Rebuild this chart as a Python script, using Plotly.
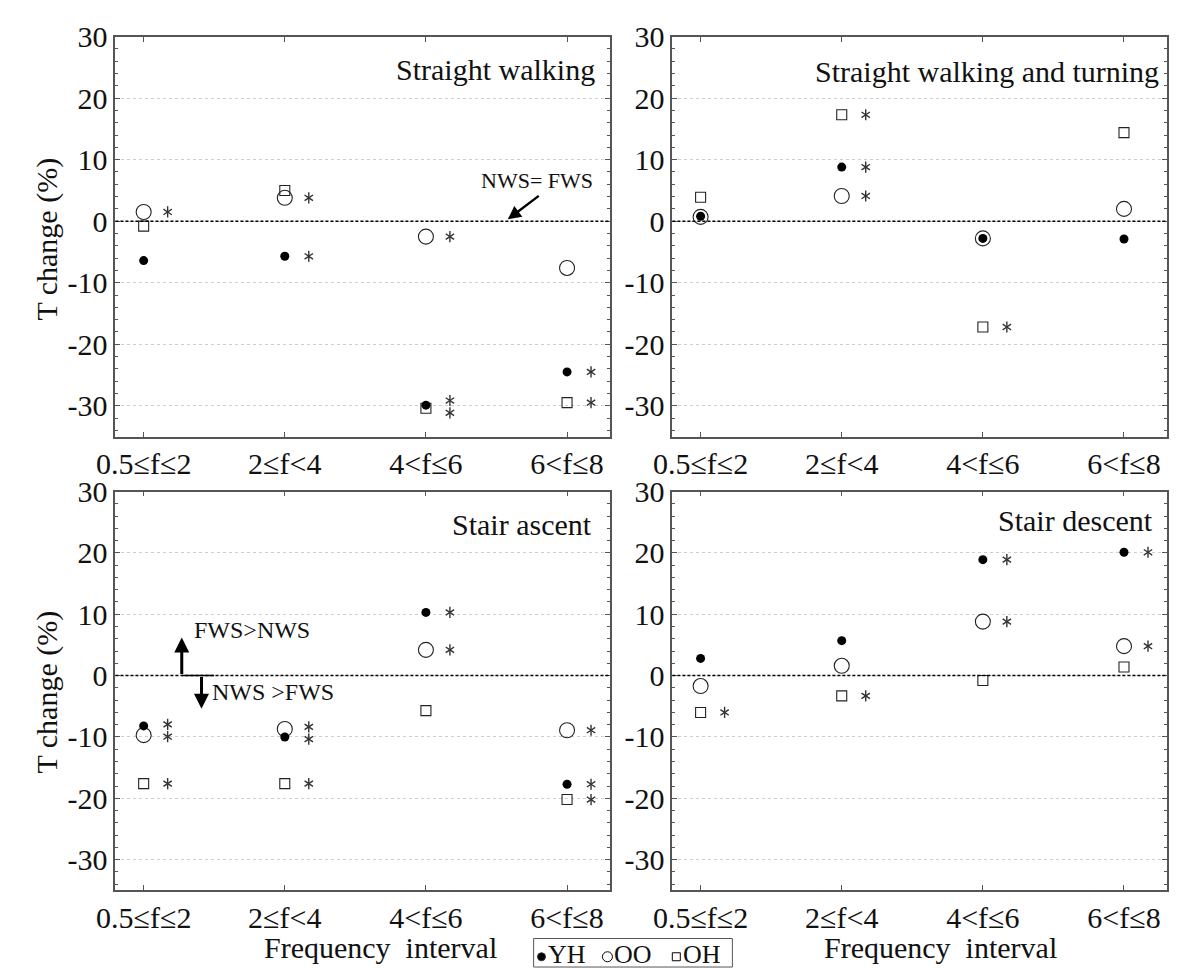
import plotly.graph_objects as go

# ---------------- data ----------------
categories = ["0.5≤f≤2", "2≤f<4", "4<f≤6", "6<f≤8"]
panel_titles = ["Straight walking", "Straight walking and turning", "Stair ascent", "Stair descent"]
y_ticks = [-30, -20, -10, 0, 10, 20, 30]
y_tick_labels = ["-30", "-20", "-10", "0", "10", "20", "30"]

# T change (%) per frequency interval, one list per group and task
yh_walk = [-6.4, -5.7, -29.9, -24.5]
oo_walk = [1.5, 3.8, -2.5, -7.6]
oh_walk = [-0.8, 5.0, -30.4, -29.5]

yh_turn = [0.8, 8.8, -2.8, -2.9]
oo_turn = [0.7, 4.1, -2.8, 2.0]
oh_turn = [3.9, 17.3, -17.2, 14.4]

yh_ascent = [-8.2, -10.0, 10.3, -17.7]
oo_ascent = [-9.7, -8.7, 4.2, -8.9]
oh_ascent = [-17.6, -17.6, -5.7, -20.2]

yh_descent = [2.8, 5.7, 18.9, 20.1]
oo_descent = [-1.7, 1.6, 8.8, 4.8]
oh_descent = [-6.0, -3.3, -0.8, 1.4]

# significant differences (marked with *)
sig_yh_walk = [False, True, True, True]
sig_oo_walk = [True, True, True, False]
sig_oh_walk = [False, False, True, True]

sig_yh_turn = [False, True, False, False]
sig_oo_turn = [False, True, False, False]
sig_oh_turn = [False, True, True, False]

sig_yh_ascent = [True, True, True, True]
sig_oo_ascent = [True, True, True, True]
sig_oh_ascent = [True, True, False, True]

sig_yh_descent = [False, False, True, True]
sig_oo_descent = [False, False, True, True]
sig_oh_descent = [True, True, False, False]

panels = [
    (yh_walk, oo_walk, oh_walk, sig_yh_walk, sig_oo_walk, sig_oh_walk),
    (yh_turn, oo_turn, oh_turn, sig_yh_turn, sig_oo_turn, sig_oh_turn),
    (yh_ascent, oo_ascent, oh_ascent, sig_yh_ascent, sig_oo_ascent, sig_oh_ascent),
    (yh_descent, oo_descent, oh_descent, sig_yh_descent, sig_oo_descent, sig_oh_descent),
]

# ---------------- layout geometry (pixels) ----------------
W, H = 1187, 968
FONT = "Liberation Serif, Times New Roman, serif"
INK = "#111111"
AXIS = "#555555"
STAR = "#333333"

def fx(p):
    return p / W

def fy(p):
    return 1 - p / H

boxes = [
    ((98, 601), (20, 427)),
    ((664, 1167), (20, 427)),
    ((98, 601), (483, 889)),
    ((664, 1167), (483, 889)),
]

xpos = [1, 2, 3, 4]
XR = [0.8, 4.307]
YR = [-35, 30]
STAR_DX = 0.17

fig = go.Figure()
annotations = []
shapes = []

for i, (yh, oo, oh, s_yh, s_oo, s_oh) in enumerate(panels):
    k = i + 1
    xa = "x" if k == 1 else f"x{k}"
    ya = "y" if k == 1 else f"y{k}"

    fig.add_trace(go.Scatter(
        x=xpos, y=oo, xaxis=xa, yaxis=ya, mode="markers", showlegend=False,
        marker=dict(symbol="circle-open", size=15, color="#222", line=dict(width=1.1)),
    ))
    fig.add_trace(go.Scatter(
        x=xpos, y=oh, xaxis=xa, yaxis=ya, mode="markers", showlegend=False,
        marker=dict(symbol="square-open", size=10, color="#222", line=dict(width=1.1)),
    ))
    fig.add_trace(go.Scatter(
        x=xpos, y=yh, xaxis=xa, yaxis=ya, mode="markers", showlegend=False,
        marker=dict(symbol="circle", size=9, color="#000"),
    ))

    # significance stars, spread apart when two fall on top of each other
    sx, sy = [], []
    for j in range(4):
        ys = [vals[j] for vals, sig in ((yh, s_yh), (oo, s_oo), (oh, s_oh)) if sig[j]]
        ys.sort(reverse=True)
        for a in range(len(ys) - 1):
            if ys[a] - ys[a + 1] < 2.0:
                mid = (ys[a] + ys[a + 1]) / 2
                ys[a], ys[a + 1] = mid + 1.0, mid - 1.0
        for yv in ys:
            sx.append(xpos[j] + STAR_DX)
            sy.append(yv)
    # a six-armed asterisk from two overlaid Y shapes
    for sym in ("y-up-open", "y-down-open"):
        fig.add_trace(go.Scatter(
            x=sx, y=sy, xaxis=xa, yaxis=ya, mode="markers", showlegend=False, hoverinfo="skip",
            marker=dict(symbol=sym, size=7, color=STAR, line=dict(width=1.4, color=STAR)),
        ))

    (x0, x1), (y0, y1) = boxes[i]
    ax_common = dict(showline=True, linecolor=AXIS, linewidth=1.8, mirror="ticks",
                     ticks="inside", tickcolor=AXIS, tickwidth=1.3, zeroline=False,
                     tickfont=dict(family=FONT, size=30, color=INK))
    fig.layout["xaxis" if k == 1 else f"xaxis{k}"] = dict(
        domain=[fx(x0), fx(x1)], anchor=ya, range=XR,
        tickmode="array", tickvals=xpos, ticktext=categories, ticklen=5,
        showgrid=False, **ax_common,
    )
    fig.layout["yaxis" if k == 1 else f"yaxis{k}"] = dict(
        domain=[fy(y1), fy(y0)], anchor=xa, range=YR,
        tickmode="array", tickvals=y_ticks, ticktext=y_tick_labels, ticklen=5,
        showgrid=True, gridcolor="#cfcfcf", gridwidth=1, griddash="dot",
        minor=dict(dtick=2, tick0=0, ticks="inside", ticklen=3, tickcolor=AXIS, showgrid=False),
        **ax_common,
    )

    # reference line NWS = FWS
    shapes.append(dict(type="line", xref=f"{xa} domain", yref=ya, x0=0, x1=1, y0=0, y1=0,
                       line=dict(color="#000", width=1.5, dash="3px,2px")))

    # panel title
    title_x = [4.21, 4.26, 4.19, 4.22][i]
    title_y = [24.7, 24.4, 24.6, 25.2][i]
    annotations.append(dict(x=title_x, y=title_y, xref=xa, yref=ya, text=panel_titles[i],
                            showarrow=False, xanchor="right", yanchor="middle",
                            font=dict(family=FONT, size=30, color=INK)))

# y-axis titles
for yc in (226, 687):
    annotations.append(dict(x=fx(28), y=fy(yc), xref="paper", yref="paper", text="T change (%)",
                            textangle=-90, showarrow=False, xanchor="center", yanchor="middle",
                            font=dict(family=FONT, size=30, color=INK)))
# x-axis titles
for xc in (367, 936):
    annotations.append(dict(x=fx(xc), y=fy(947), xref="paper", yref="paper",
                            text="Frequency  interval", showarrow=False,
                            xanchor="center", yanchor="middle",
                            font=dict(family=FONT, size=30, color=INK)))

# NWS = FWS pointer (straight walking)
annotations.append(dict(x=3.58, y=0.3, ax=3.81, ay=4.3, xref="x", yref="y", axref="x", ayref="y",
                        text="", showarrow=True, arrowhead=2, arrowsize=1.1, arrowwidth=2.4,
                        arrowcolor="#000", standoff=0))
annotations.append(dict(x=3.79, y=6.6, xref="x", yref="y", text="NWS= FWS", showarrow=False,
                        font=dict(family=FONT, size=22, color=INK)))

# direction arrows (stair ascent)
annotations.append(dict(x=1.27, y=6.2, ax=1.27, ay=0, xref="x3", yref="y3", axref="x3", ayref="y3",
                        text="", showarrow=True, arrowhead=2, arrowsize=1.0, arrowwidth=3.0,
                        arrowcolor="#000", standoff=0))
annotations.append(dict(x=1.41, y=-5.4, ax=1.41, ay=0, xref="x3", yref="y3", axref="x3", ayref="y3",
                        text="", showarrow=True, arrowhead=2, arrowsize=1.0, arrowwidth=3.0,
                        arrowcolor="#000", standoff=0))
shapes.append(dict(type="line", xref="x3", yref="y3", x0=1.27, x1=1.50, y0=0, y1=0,
                   line=dict(color="#000", width=1.5)))
annotations.append(dict(x=1.34, y=7.4, xref="x3", yref="y3", text="FWS>NWS", showarrow=False,
                        xanchor="left", font=dict(family=FONT, size=24, color=INK)))
annotations.append(dict(x=1.47, y=-2.7, xref="x3", yref="y3", text="NWS >FWS", showarrow=False,
                        xanchor="left", font=dict(family=FONT, size=24, color=INK)))

# group key in its own small frame (x measured in pixels across the frame)
key_names = ["YH", "OO", "OH"]
key_symbols = ["circle", "circle-open", "square-open"]
key_sizes = [8, 10, 8]
key_at = [531, 598, 668]
fig.layout["xaxis5"] = dict(domain=[fx(523), fx(725)], range=[523, 725], anchor="y5", visible=False,
                            fixedrange=True)
fig.layout["yaxis5"] = dict(domain=[fy(967), fy(938)], range=[0, 1], anchor="x5", visible=False,
                            fixedrange=True)
for name, sym, sz, xk in zip(key_names, key_symbols, key_sizes, key_at):
    fig.add_trace(go.Scatter(
        x=[xk], y=[0.36], xaxis="x5", yaxis="y5", mode="markers", showlegend=False,
        hoverinfo="skip",
        marker=dict(symbol=sym, size=sz, color="#000", line=dict(width=1, color="#333")),
    ))
    annotations.append(dict(x=xk + 5, y=0.45, xref="x5", yref="y5", text=name, showarrow=False,
                            xanchor="left", yanchor="middle",
                            font=dict(family=FONT, size=26, color=INK)))
shapes.append(dict(type="rect", xref="x5 domain", yref="y5 domain", x0=0, x1=1, y0=0, y1=1,
                   line=dict(color="#555", width=1)))

fig.update_layout(
    width=W, height=H, margin=dict(l=0, r=0, t=0, b=0),
    paper_bgcolor="white", plot_bgcolor="white",
    annotations=annotations, shapes=shapes, showlegend=False,
)

fig.write_html("out.html")
